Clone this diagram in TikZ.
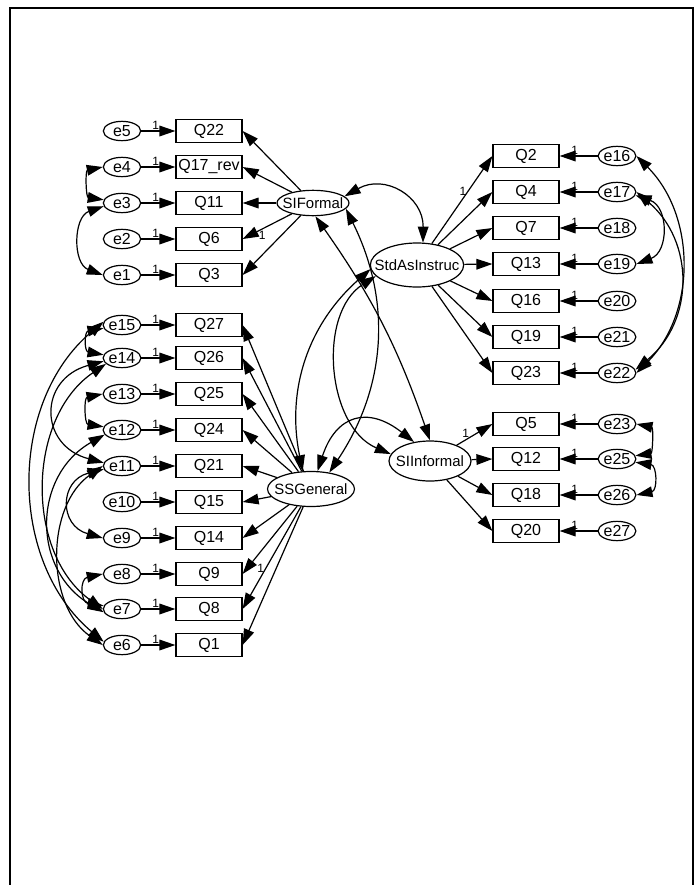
\documentclass[tikz,border=0pt]{standalone}
\usepackage{fontspec}
\setmainfont{Liberation Sans}
\usetikzlibrary{arrows.meta,shapes.geometric}
\newcommand{\latname}[1]{\makebox[0pt]{#1}}

\begin{document}
\begin{tikzpicture}[x=0.75pt,y=-0.75pt,font=\fontsize{12}{14}\selectfont,line width=0.9pt]
\tikzset{
% Node styles: observed items, error terms and latent factors
obs node/.style={rectangle,draw,minimum width=49.5pt,minimum height=17.25pt,inner sep=0},
err node/.style={ellipse,draw,minimum width=28pt,minimum height=14.5pt,inner sep=0},
lat node/.style={ellipse,draw,inner sep=0,font=\fontsize{11.2}{13}\selectfont},
one/.style={font=\fontsize{9}{10}\selectfont,inner sep=1pt},
loading/.style={-{Triangle[length=12pt,width=8pt]}},
cov/.style={{Triangle[length=12pt,width=8pt]}-{Triangle[length=12pt,width=8pt]}}
}
\useasboundingbox (0,0) rectangle (697,885);
\draw[line width=0.8pt] (10,885) -- (10,8) -- (693,8) -- (693,885);
% Latent factors
\node[lat node,minimum width=54pt,minimum height=19pt] (SIFormal) at (313,203) {\latname{SIFormal}};
\node[lat node,minimum width=70pt,minimum height=33pt] (StdAsInstruc) at (417,265) {\latname{StdAsInstruc}};
\node[lat node,minimum width=65.25pt,minimum height=26.25pt] (SSGeneral) at (311,489) {\latname{SSGeneral}};
\node[lat node,minimum width=61.5pt,minimum height=30pt] (SIInformal) at (430,461) {\latname{SIInformal}};
% Items and errors on the left
\foreach \n/\t/\e/\y in {Q22/Q22/e5/131,Q17/Q17\_rev/e4/167,Q11/Q11/e3/203,Q6/Q6/e2/239,Q3/Q3/e1/275,
  Q27/Q27/e15/325,Q26/Q26/e14/358,Q25/Q25/e13/394,Q24/Q24/e12/430,Q21/Q21/e11/466,
  Q15/Q15/e10/502,Q14/Q14/e9/538,Q9/Q9/e8/574,Q8/Q8/e7/609,Q1/Q1/e6/645}{
  \node[obs node] (\n) at (209,\y) {\t};
  \node[err node] (\e) at (122,\y) {\e};
  \draw[loading] (\e) -- node[one,above,pos=0.42]{1} (\n);
}
% Items and errors on the right
\foreach \n/\e/\y in {Q2/e16/156,Q4/e17/192,Q7/e18/228,Q13/e19/264,Q16/e20/301,Q19/e21/337,Q23/e22/373,
  Q5/e23/424,Q12/e25/459,Q18/e26/495,Q20/e27/531}{
  \node[obs node] (\n) at (526,\y) {\n};
  \node[err node] (\e) at (617,\y) {\e};
  \draw[loading] (\e) -- node[one,above,pos=0.6]{1} (\n);
}
% Loadings
\foreach \n in {Q22,Q17,Q11,Q3} \draw[loading] (SIFormal) -- (\n.east);
\draw[loading] (SIFormal) -- node[one,pos=0.6,below]{1} (Q6.east);
\foreach \n in {Q27,Q26,Q25,Q24,Q21,Q15,Q14,Q9,Q1} \draw[loading] (SSGeneral) -- (\n.east);
\draw[loading] (SSGeneral) -- node[one,pos=0.6,left]{1} (Q8.east);
\foreach \n in {Q4,Q7,Q13,Q16,Q19,Q23} \draw[loading] (StdAsInstruc) -- (\n.west);
\draw[loading] (StdAsInstruc) -- node[one,pos=0.6,left]{1} (Q2.west);
\foreach \n in {Q12,Q18,Q20} \draw[loading] (SIInformal) -- (\n.west);
\draw[loading] (SIInformal) -- node[one,pos=0.25,above]{1} (Q5.west);
% Error covariances
\draw[cov] (e4.west) to[bend right=80,looseness=1.4] (e3.170);
\draw[cov] (e3.190) to[bend right=70,looseness=1.2] (e1.west);
\draw[cov] (e15.190) to[bend right=80,looseness=1.9] (e14.170);
\draw[cov] (e13.west) to[bend right=80,looseness=1.5] (e12.170);
\draw[cov] (e8.west) to[bend right=80,looseness=1.9] (e7.170);
\draw[cov] (e11.190) to[bend right=75,looseness=1.7] (e9.west);
\draw[cov] (e14.190) to[bend right=75,looseness=1.7] (e11.170);
\draw[cov] (e15.170) to[bend right=50] (e6.170);
\draw[cov] (e14.200) to[bend right=55] (e7.west);
\draw[cov] (e12.195) to[bend right=60,looseness=1.2] (e7.190);
\draw[cov] (e11.west) to[bend right=55] (e6.west);
\draw[cov] (e16.east) to[bend left=45] (e22.east);
\draw[cov] (e17.east) to[bend left=50,looseness=1.1] (e22.10);
\draw[cov] (e17.-10) to[bend left=70,looseness=1.3] (e19.east);
\draw[cov] (e23.east) to[bend left=80,looseness=1.4] (e25.10);
\draw[cov] (e25.-10) to[bend left=80,looseness=1.7] (e26.east);
% Factor covariances
\draw[cov] (SIFormal.12) to[bend left=60,looseness=1.3] (StdAsInstruc.75);
\draw[cov] (SIFormal.280) to[bend left=8] (SIInformal.90);
\draw[cov] (SIFormal.350) to[bend left=30] (SSGeneral.42);
\draw[cov] (StdAsInstruc.185) to[bend right=30] (SSGeneral.115);
\draw[cov] (StdAsInstruc.195) to[bend right=62] (SIInformal.170);
\draw[cov] (SSGeneral.70) to[bend left=55,looseness=1.5] (SIInformal.130);
\end{tikzpicture}
\end{document}
